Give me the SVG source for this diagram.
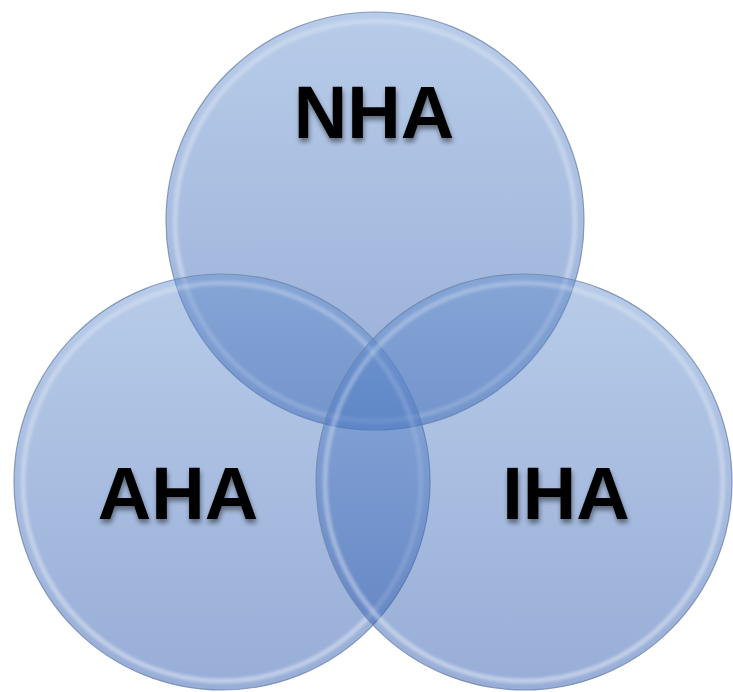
<svg xmlns="http://www.w3.org/2000/svg" width="733" height="692" viewBox="0 0 733 692">
  <defs>
    <linearGradient id="fillG" x1="0" y1="0" x2="0" y2="1">
      <stop offset="0" stop-color="#618ece"/>
      <stop offset="1" stop-color="#1a4aa6"/>
    </linearGradient>
    <linearGradient id="rimG" x1="0" y1="0" x2="0" y2="1">
      <stop offset="0" stop-color="#ffffff" stop-opacity="0.25"/>
      <stop offset="1" stop-color="#ffffff" stop-opacity="0.4"/>
    </linearGradient>
    <filter id="shadow" x="-20%" y="-20%" width="140%" height="160%">
      <feGaussianBlur in="SourceAlpha" stdDeviation="2.5"/>
      <feOffset dx="1" dy="4" result="b"/>
      <feComponentTransfer><feFuncA type="linear" slope="0.45"/></feComponentTransfer>
      <feMerge><feMergeNode/><feMergeNode in="SourceGraphic"/></feMerge>
    </filter>
    <filter id="soft" x="-5%" y="-5%" width="110%" height="110%">
      <feGaussianBlur stdDeviation="1.5"/>
    </filter>
  </defs>
  <style>
    .disc { fill: url(#fillG); fill-opacity: 0.45; stroke: #6f86ad; stroke-width: 1.2; stroke-opacity: 0.8; }
    .rim { fill: none; stroke: url(#rimG); stroke-width: 5; filter: url(#soft); }
    .lbl { font-family: "Liberation Sans", Arial, sans-serif; font-weight: bold; font-size: 74px; fill: #000; text-anchor: middle; filter: url(#shadow); }
  </style>
  <rect width="733" height="692" fill="#ffffff"/>
  <g id="NHA">
    <circle class="disc" cx="375" cy="221" r="209"/>
    <circle class="rim" cx="375" cy="221" r="200"/>
  </g>
  <g id="AHA">
    <circle class="disc" cx="222" cy="482" r="208"/>
    <circle class="rim" cx="222" cy="482" r="199"/>
  </g>
  <g id="IHA">
    <circle class="disc" cx="524" cy="482" r="208"/>
    <circle class="rim" cx="524" cy="482" r="199"/>
  </g>
  <g id="labels">
    <text class="lbl" x="374" y="138">NHA</text>
    <text class="lbl" x="178" y="519">AHA</text>
    <text class="lbl" x="566" y="519">IHA</text>
  </g>
  <g id="connectors"></g>
</svg>
